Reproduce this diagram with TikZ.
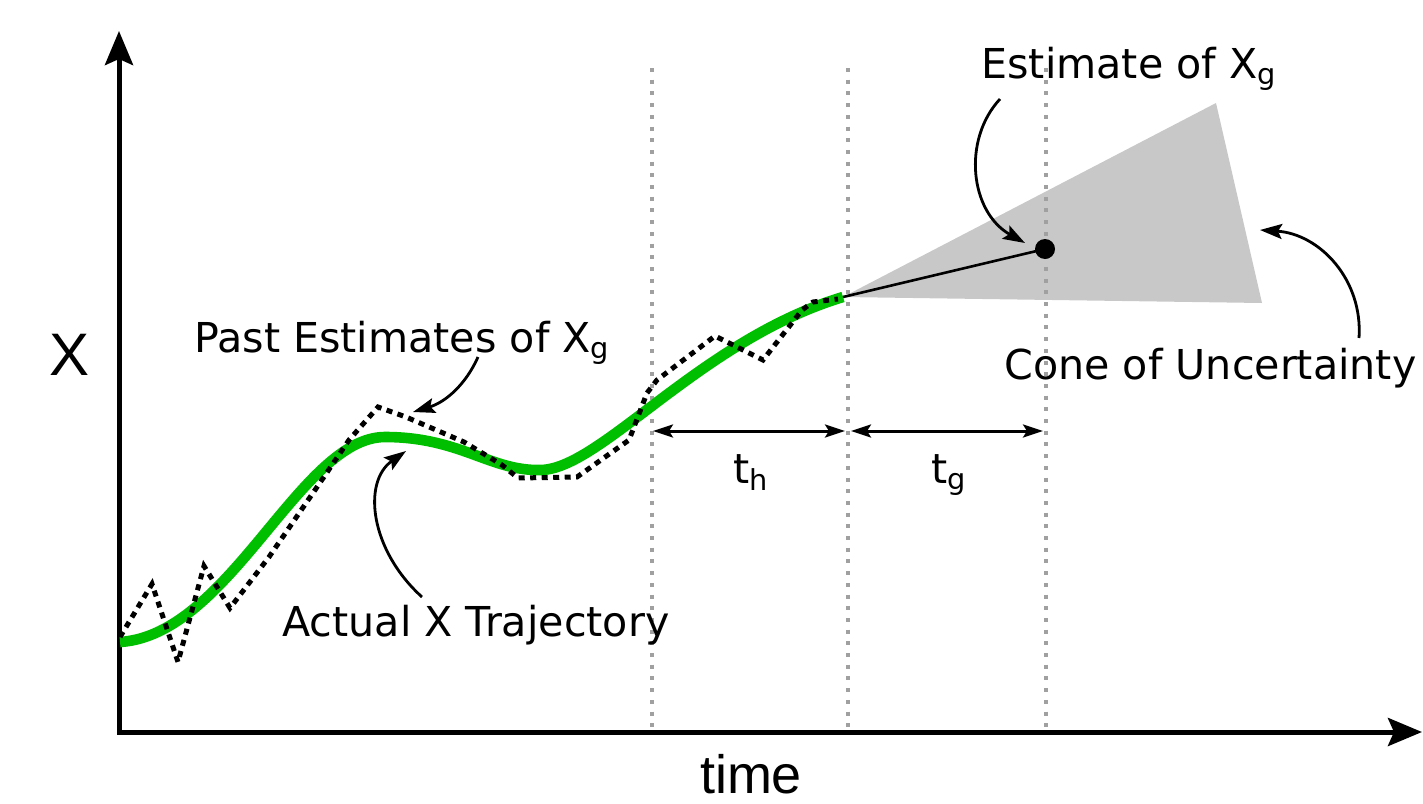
\documentclass[tikz,border=0pt]{standalone}
\usepackage{fontspec}
\setmainfont{DejaVu Sans}
\newfontfamily\arialfont{Liberation Sans}
\usetikzlibrary{arrows.meta}
\definecolor{trajgreen}{RGB}{0,190,0}
\definecolor{guidegray}{RGB}{160,160,160}
\definecolor{conegray}{RGB}{200,200,200}
\tikzset{
  axisline/.style={line width=2.5pt, line join=miter, {Stealth[length=17pt,width=14pt,inset=3pt]}-{Stealth[length=17pt,width=14pt,inset=3pt]}},
  guide/.style={guidegray, line width=2pt, dash pattern=on 2pt off 3.85pt},
  traj/.style={trajgreen, line width=5.3pt, line cap=butt},
  pastest/.style={black, line width=2.5pt, dash pattern=on 3pt off 2.75pt},
  callout/.style={line width=1.4pt, -{Stealth[length=11pt,width=7.5pt,inset=2pt]}},
  span/.style={line width=1.5pt, {Stealth[length=10pt,width=6.5pt,inset=2pt]}-{Stealth[length=10pt,width=6.5pt,inset=2pt]}},
  lbl/.style={inner sep=0pt, anchor=base west, font=\fontsize{20.6}{24}\selectfont},
}
\begin{document}
\begin{tikzpicture}[x=0.5pt,y=-0.5pt]
\useasboundingbox (0,0) rectangle (1423,803);

% cone of uncertainty
\coordinate (apex) at (843,297);
\coordinate (conetop) at (1216,103);
\coordinate (conebot) at (1262,303);
\fill[conegray] (apex) -- (conetop) -- (conebot) -- cycle;

% guide lines
\coordinate (g1t) at (652,68); \coordinate (g1b) at (652,727);
\coordinate (g2t) at (848,68); \coordinate (g2b) at (848,727);
\coordinate (g3t) at (1046,68); \coordinate (g3b) at (1046,727);
\draw[guide] (g1t) -- (g1b);
\draw[guide] (g2t) -- (g2b);
\draw[guide] (g3t) -- (g3b);

% axes
\coordinate (ytop) at (119,31);
\coordinate (origin) at (119,732);
\coordinate (xend) at (1422,732);
\draw[axisline] (ytop) -- (origin) -- (xend);

% actual trajectory
\coordinate (trs) at (120,642);
\coordinate (trpeak) at (385,437);
\coordinate (trdip) at (540,470);
\draw[traj] (trs) .. controls (230,635) and (300,437) .. (trpeak)
  .. controls (460,437) and (490,471) .. (trdip)
  .. controls (600,470) and (700,340) .. (apex);

% past estimates
\draw[pastest] (120,637) -- (152,584) -- (178,662) -- (204,566) -- (230,608)
  -- (269,557) -- (315,490) -- (349,440) -- (378,407) -- (406,417)
  -- (464,442) -- (502,465) -- (518,478) -- (577,477) -- (629,440)
  -- (647,393) -- (657,380) -- (715,336) -- (763,360) -- (802,310)
  -- (813,302) -- (838,299);

% estimate line and dot
\node[circle, fill=black, inner sep=0pt, minimum size=10pt] (est) at (1045,249) {};
\draw[line width=1.3pt] (apex) -- (est.center);

% spans
\coordinate (th1) at (653,431); \coordinate (th2) at (845,431);
\coordinate (tg1) at (851,431); \coordinate (tg2) at (1043,431);
\draw[span] (th1) -- (th2);
\draw[span] (tg1) -- (tg2);
\node[lbl] (thl) at (733,483) {t\textsubscript{h}};
\node[lbl] (tgl) at (931,483) {t\textsubscript{g}};

% labels
\node[lbl] (pastlbl) at (194,352) {Past Estimates of X\textsubscript{g}};
\node[lbl] (estlbl) at (981,78) {Estimate of X\textsubscript{g}};
\node[lbl] (conelbl) at (1004,379) {Cone of Uncertainty};
\node[lbl] (actlbl) at (282,636) {Actual X Trajectory};
\node[inner sep=0pt, anchor=base, font=\arialfont\fontsize{30}{32}\selectfont] (xlbl) at (70,375) {X};
\node[inner sep=0pt, anchor=base, font=\arialfont\fontsize{27}{30}\selectfont] (timelbl) at (751,793) {time};

% callout arrows
\coordinate (pastA) at (478,357); \coordinate (pastB) at (413,412);
\draw[callout] (pastA) .. controls (466,384) and (446,402) .. (pastB);
\coordinate (actA) at (422,597); \coordinate (actB) at (406,451);
\draw[callout] (actA) .. controls (370,550) and (362,482) .. (actB);
\coordinate (estA) at (1000,99); \coordinate (estB) at (1025,243);
\draw[callout] (estA) .. controls (962,140) and (970,212) .. (estB);
\coordinate (coneA) at (1359,338); \coordinate (coneB) at (1260,230);
\draw[callout] (coneA) .. controls (1363,280) and (1320,234) .. (coneB);
\end{tikzpicture}
\end{document}
